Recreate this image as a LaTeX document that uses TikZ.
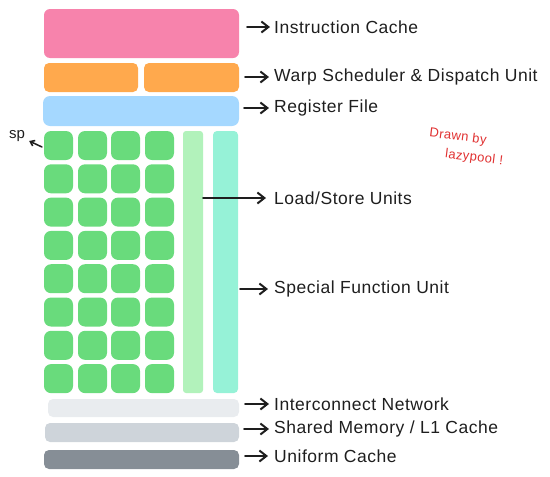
\documentclass[tikz,border=0pt]{standalone}
\usepackage{fontspec}
\setmainfont{Liberation Sans}
\usetikzlibrary{arrows.meta}
\definecolor{cpink}{HTML}{F783AC}
\definecolor{corange}{HTML}{FFA94D}
\definecolor{cblue}{HTML}{A5D8FF}
\definecolor{cgreen}{HTML}{69DB7C}
\definecolor{clgreen}{HTML}{B2F2BB}
\definecolor{cteal}{HTML}{96F2D7}
\definecolor{cgray1}{HTML}{E9ECEF}
\definecolor{cgray2}{HTML}{CED4DA}
\definecolor{cgray3}{HTML}{868E96}
\definecolor{cink}{HTML}{1E1E1E}
\definecolor{cred}{HTML}{E03131}
\tikzset{
  blk/.style={rounded corners=6pt, inner sep=0pt, outer sep=0pt, draw=none},
  sq/.style={blk, fill=cgreen, minimum width=29pt, minimum height=29pt, rounded corners=7pt},
  lbl/.style={anchor=west, inner sep=0pt, font=\fontsize{17.5}{20}\selectfont\addfontfeatures{LetterSpace=3}, text=cink},
  arr/.style={-{Straight Barb[length=7pt,width=11pt,line width=2pt]}, line width=1.9pt, draw=cink, line cap=round},
  arrs/.style={-{Straight Barb[length=4pt,width=6pt,line width=1.6pt]}, line width=1.5pt, draw=cink, line cap=round},
  note/.style={text=cred, inner sep=0pt, font=\fontsize{13}{15}\selectfont\addfontfeatures{LetterSpace=3}, rotate=-7}
}
\begin{document}
\begin{tikzpicture}[x=1pt,y=-1pt]
\useasboundingbox (0,0) rectangle (550,477);
% top blocks
\node[blk, fill=cpink, minimum width=195pt, minimum height=49pt] (ic) at (141.5,33.5) {};
\node[blk, fill=corange, minimum width=94pt, minimum height=29pt, rounded corners=5pt] (ws1) at (91,77.5) {};
\node[blk, fill=corange, minimum width=95pt, minimum height=29pt, rounded corners=5pt] (ws2) at (191.5,77.5) {};
\node[blk, fill=cblue, minimum width=196pt, minimum height=30pt, rounded corners=7pt] (rf) at (141,111) {};
% green SP grid
\foreach \r in {1,...,8} {
  \foreach \c/\x in {1/58.5,2/92.5,3/125.5,4/159.5} {
    \node[sq] (sq\r\c) at (\x,{145.5+33.3*(\r-1)}) {};
  }
}
% vertical bars
\node[blk, fill=clgreen, minimum width=20pt, minimum height=262pt, rounded corners=3pt] (ls) at (193,262) {};
\node[blk, fill=cteal, minimum width=25pt, minimum height=262pt, rounded corners=4pt] (sfu) at (225.5,262) {};
% bottom strips
\node[blk, fill=cgray1, minimum width=191pt, minimum height=18pt, rounded corners=5pt] (icn) at (143.5,408) {};
\node[blk, fill=cgray2, minimum width=194pt, minimum height=19pt, rounded corners=5pt] (sm) at (142,432.5) {};
\node[blk, fill=cgray3, minimum width=195pt, minimum height=19pt, rounded corners=5pt] (uc) at (141.5,459.5) {};
% labels
\node[lbl] (lic) at (274,27) {Instruction Cache};
\node[lbl] (lws) at (274,77) {Warp Scheduler \& Dispatch Unit};
\node[lbl] (lrf) at (274,108) {Register File};
\node[lbl] (lls) at (274,198) {Load/Store Units};
\node[lbl] (lsfu) at (274,289) {Special Function Unit};
\node[lbl] (licn) at (274,404) {Interconnect Network};
\node[lbl] (lsm) at (274,429) {Shared Memory / L1 Cache};
\node[lbl] (luc) at (274,456) {Uniform Cache};
% arrows
\draw[arr] ([xshift=8pt]ic.east |- lic.west) -- ([xshift=-4pt]lic.west);
\draw[arr] ([xshift=6pt]ws2.east |- lws.west) -- ([xshift=-5pt]lws.west);
\draw[arr] ([xshift=5pt]rf.east |- lrf.west) -- ([xshift=-5pt]lrf.west);
\draw[arr] (ls.east |- lls.west) -- ([xshift=-8pt]lls.west);
\draw[arr] ([xshift=2pt]sfu.east |- lsfu.west) -- ([xshift=-6pt]lsfu.west);
\draw[arr] ([xshift=6pt]icn.east |- licn.west) -- ([xshift=-5pt]licn.west);
\draw[arr] ([xshift=5pt]sm.east |- lsm.west) -- ([xshift=-5pt]lsm.west);
\draw[arr] ([xshift=6pt]uc.east |- luc.west) -- ([xshift=-6pt]luc.west);
% sp
\node[inner sep=0pt, font=\fontsize{15}{17}\selectfont, text=cink] (sp) at (17,136) {sp};
\draw[arrs] ([xshift=-2pt,yshift=-1.5pt]sq11.west) -- ([xshift=4pt,yshift=-5pt]sp.east);
% signature
\node[note] (n1) at (458,137) {Drawn by};
\node[note] (n2) at (474,158) {lazypool !};
\end{tikzpicture}
\end{document}
